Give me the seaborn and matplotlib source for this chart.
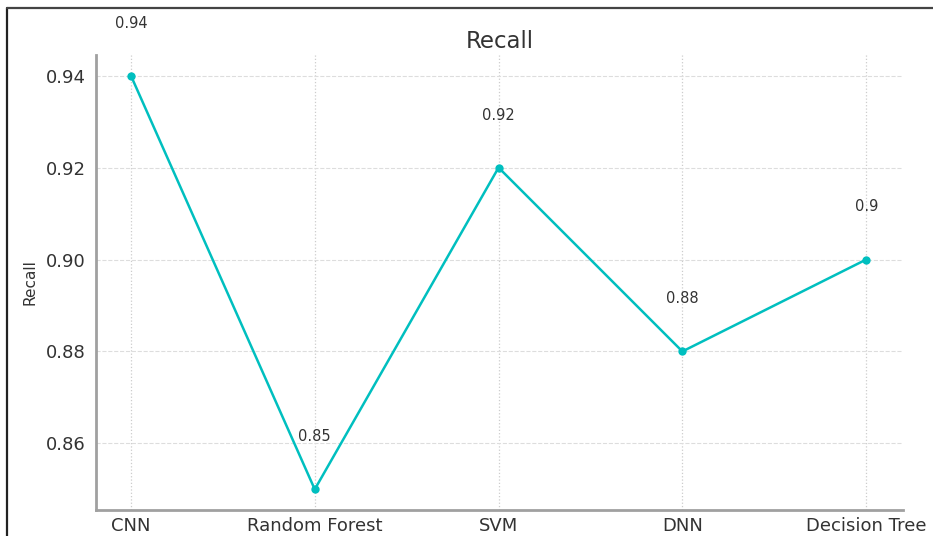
import matplotlib
matplotlib.use("Agg")
import matplotlib.pyplot as plt
import seaborn as sns
import pandas as pd
from matplotlib.lines import Line2D

models = ["CNN", "Random Forest", "SVM", "DNN", "Decision Tree"]
recall = [0.94, 0.85, 0.92, 0.88, 0.90]
y_ticks = [0.86, 0.88, 0.90, 0.92, 0.94]

df = pd.DataFrame({"Model": models, "Recall": recall})

sns.set_style("white")
plt.rcParams["font.family"] = ["DejaVu Sans"]

fig = plt.figure(figsize=(9.33, 5.36), dpi=100)
ax = fig.add_axes([0.1029, 0.0485, 0.8649, 0.8489])

sns.lineplot(data=df, x="Model", y="Recall", ax=ax, color="c",
             marker="o", markersize=6, markeredgewidth=0, linewidth=1.8,
             sort=False)

for i, v in enumerate(df["Recall"]):
    ax.text(i, v + 0.0098, f"{v:g}", ha="center", va="bottom",
            fontsize=10.5, color="#333333")

ax.set_yticks(y_ticks)
ax.set_yticklabels([f"{t:.2f}" for t in y_ticks])
ax.set_xlim(-0.19, 4.2)
ax.set_ylim(0.8455, 0.9445)

ax.grid(axis="y", linestyle="--", color="#dddddd", linewidth=0.8)
ax.grid(axis="x", linestyle=":", color="#cccccc", linewidth=0.9)
ax.set_axisbelow(True)

for side in ("top", "right"):
    ax.spines[side].set_visible(False)
for side in ("left", "bottom"):
    ax.spines[side].set_color("#a0a0a0")
    ax.spines[side].set_linewidth(2)

ax.tick_params(axis="both", which="both", length=4, width=1, color="#555555",
               labelsize=13, labelcolor="#333333", direction="out")
ax.tick_params(axis="x", pad=1)

ax.set_title("Recall", fontsize=16.5, color="#333333", pad=5)
ax.set_xlabel("")
ax.set_ylabel("Recall", fontsize=11, color="#333333", labelpad=6)

# frame on the left and top edges of the canvas
fig.add_artist(Line2D([7 / 933, 7 / 933], [0, 1 - 8 / 536],
                      transform=fig.transFigure, color="#222222", linewidth=1.6))
fig.add_artist(Line2D([7 / 933, 1], [1 - 8 / 536, 1 - 8 / 536],
                      transform=fig.transFigure, color="#444444", linewidth=1.6))

fig.savefig("out.png", dpi=100)
